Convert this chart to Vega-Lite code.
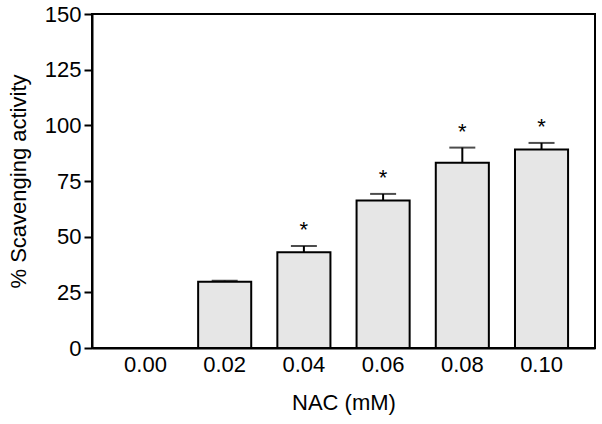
{
  "$schema": "https://vega.github.io/schema/vega-lite/v6.json",
  "width": 503,
  "height": 334,
  "autosize": {"type": "none"},
  "padding": {"left": 92, "top": 14, "right": 7, "bottom": 76},
  "background": "white",
  "config": {
    "view": {"stroke": "black", "strokeWidth": 2},
    "font": "Liberation Sans",
    "axis": {"grid": false, "labelFont": "Liberation Sans", "titleFont": "Liberation Sans", "labelColor": "black", "titleColor": "black", "domainColor": "black", "domainWidth": 2, "tickColor": "black", "tickWidth": 2, "labelFontSize": 22, "titleFontSize": 22, "titleFontWeight": "normal"}
  },
  "data": {
    "values": [
      {"conc": "0.00", "mean": 0, "err": 0, "sig": ""},
      {"conc": "0.02", "mean": 29.8, "err": 0.4, "sig": ""},
      {"conc": "0.04", "mean": 43.0, "err": 2.8, "sig": "*"},
      {"conc": "0.06", "mean": 66.2, "err": 3.0, "sig": "*"},
      {"conc": "0.08", "mean": 83.2, "err": 6.8, "sig": "*"},
      {"conc": "0.10", "mean": 89.2, "err": 2.9, "sig": "*"}
    ]
  },
  "transform": [{"calculate": "datum.mean + datum.err", "as": "upper"}],
  "encoding": {
    "x": {
      "field": "conc", "type": "ordinal", "sort": null,
      "scale": {"paddingInner": 0.33, "paddingOuter": 0.34},
      "axis": {"title": "NAC (mM)", "labelAngle": 0, "ticks": false, "labelPadding": 6, "titlePadding": 17, "domain": true}
    }
  },
  "layer": [
    {
      "mark": {"type": "rule", "color": "black", "strokeWidth": 2},
      "encoding": {
        "y": {"field": "mean", "type": "quantitative"},
        "y2": {"field": "upper"}
      }
    },
    {
      "mark": {"type": "tick", "color": "black", "thickness": 2, "size": 26, "orient": "horizontal"},
      "transform": [{"filter": "datum.err > 0"}],
      "encoding": {
        "y": {"field": "upper", "type": "quantitative"}
      }
    },
    {
      "mark": {"type": "bar", "fill": "#e6e6e6", "stroke": "black", "strokeWidth": 2},
      "transform": [{"filter": "datum.mean > 0"}],
      "encoding": {
        "y": {
          "field": "mean", "type": "quantitative",
          "scale": {"domain": [0, 150], "nice": false},
          "axis": {"title": "% Scavenging activity", "values": [0, 25, 50, 75, 100, 125, 150], "tickSize": 8, "labelPadding": 3, "titleX": -74, "titleY": 167, "titleAlign": "center", "titleBaseline": "middle", "titleAngle": -90}
        }
      }
    },
    {
      "mark": {"type": "text", "fontSize": 22, "color": "black", "baseline": "middle", "dy": -16, "font": "Liberation Sans"},
      "encoding": {
        "y": {"field": "upper", "type": "quantitative"},
        "text": {"field": "sig"}
      }
    }
  ]
}
